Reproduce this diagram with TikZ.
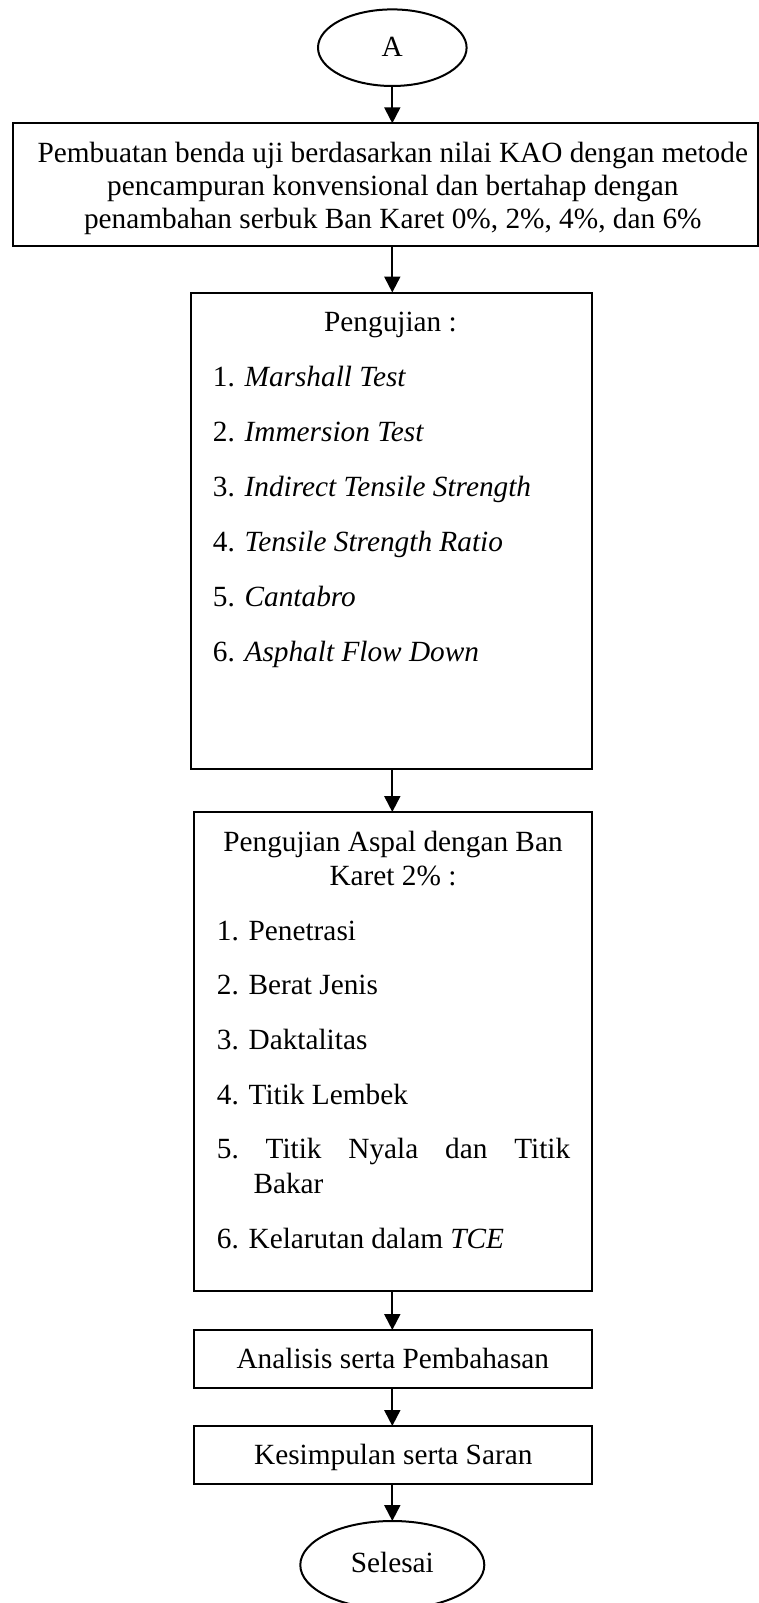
\documentclass[tikz,border=0pt]{standalone}
\usepackage{fontspec}
\setmainfont{Liberation Serif}
\usetikzlibrary{shapes.geometric,arrows.meta}
\begin{document}
\begin{tikzpicture}[x=1pt,y=-1pt,
  box/.style={draw,line width=2pt,rectangle,inner sep=0pt,outer sep=0pt},
  oval/.style={draw,line width=2pt,ellipse,inner sep=0pt,outer sep=0pt},
  txt/.style={anchor=base,inner sep=0pt,font=\fontsize{29.3}{33.5}\selectfont},
  ltxt/.style={anchor=base west,inner sep=0pt,font=\fontsize{29.3}{33.5}\selectfont},
  arr/.style={line width=2pt,-{Triangle[width=16pt,length=16pt]}}]
\useasboundingbox (0,0) rectangle (759,1603);
% shapes
\node[oval,minimum width=148.6pt,minimum height=76.6pt] (A) at (392.3,47.7) {};
\node[box,minimum width=745pt,minimum height=122.7pt] (b1) at (385.8,184.65) {};
\node[box,minimum width=401pt,minimum height=476.5pt] (b2) at (391.2,530.75) {};
\node[box,minimum width=397.7pt,minimum height=478.7pt] (b3) at (392.85,1051.35) {};
\node[box,minimum width=397.7pt,minimum height=58pt] (b4) at (392.85,1359) {};
\node[box,minimum width=397.7pt,minimum height=58pt] (b5) at (392.85,1455) {};
\node[oval,minimum width=184pt,minimum height=88pt] (S) at (392.3,1565) {};
% texts
\node[txt] (tA) at (392.3,56.7) {A};
\node[txt] (t1a) at (392.8,162) {Pembuatan benda uji berdasarkan nilai KAO dengan metode};
\node[txt] (t1b) at (392.8,195) {pencampuran konvensional dan bertahap dengan};
\node[txt] (t1c) at (392.8,228) {penambahan serbuk Ban Karet 0\%, 2\%, 4\%, dan 6\%};
\node[txt] (t2) at (390.5,331.7) {Pengujian :};
\node[ltxt] (i21) at (212.7,386.7) {1. \textit{Marshall Test}};
\node[ltxt] (i22) at (212.7,441.7) {2. \textit{Immersion Test}};
\node[ltxt] (i23) at (212.7,496.7) {3. \textit{Indirect Tensile Strength}};
\node[ltxt] (i24) at (212.7,551.7) {4. \textit{Tensile Strength Ratio}};
\node[ltxt] (i25) at (212.7,606.7) {5. \textit{Cantabro}};
\node[ltxt] (i26) at (212.7,661) {6. \textit{Asphalt Flow Down}};
\node[txt] (t3a) at (393,851.7) {Pengujian Aspal dengan Ban};
\node[txt] (t3b) at (393,885) {Karet 2\% :};
\node[ltxt] (i31) at (216.7,940) {1. Penetrasi};
\node[ltxt] (i32) at (216.7,994) {2. Berat Jenis};
\node[ltxt] (i33) at (216.7,1049) {3. Daktalitas};
\node[ltxt] (i34) at (216.7,1104) {4. Titik Lembek};
\node[ltxt] (i35) at (216.7,1158) {\makebox[353.3pt][l]{5.\hfill Titik\hfill Nyala\hfill dan\hfill Titik}};
\node[ltxt] (i35b) at (253.3,1193) {Bakar};
\node[ltxt] (i36) at (216.7,1248) {6. Kelarutan dalam \textit{TCE}};
\node[txt] (t4) at (392.8,1368.3) {Analisis serta Pembahasan};
\node[txt] (t5) at (393.3,1464.3) {Kesimpulan serta Saran};
\node[txt] (tS) at (392.3,1572.7) {Selesai};
% connectors
\draw[arr] (A.south) -- (A.south |- b1.north);
\draw[arr] (b1.south -| A.south) -- (A.south |- b2.north);
\draw[arr] (b2.south -| A.south) -- (A.south |- b3.north);
\draw[arr] (b3.south -| A.south) -- (A.south |- b4.north);
\draw[arr] (b4.south -| A.south) -- (A.south |- b5.north);
\draw[arr] (b5.south -| A.south) -- (S.north);
\end{tikzpicture}
\end{document}
